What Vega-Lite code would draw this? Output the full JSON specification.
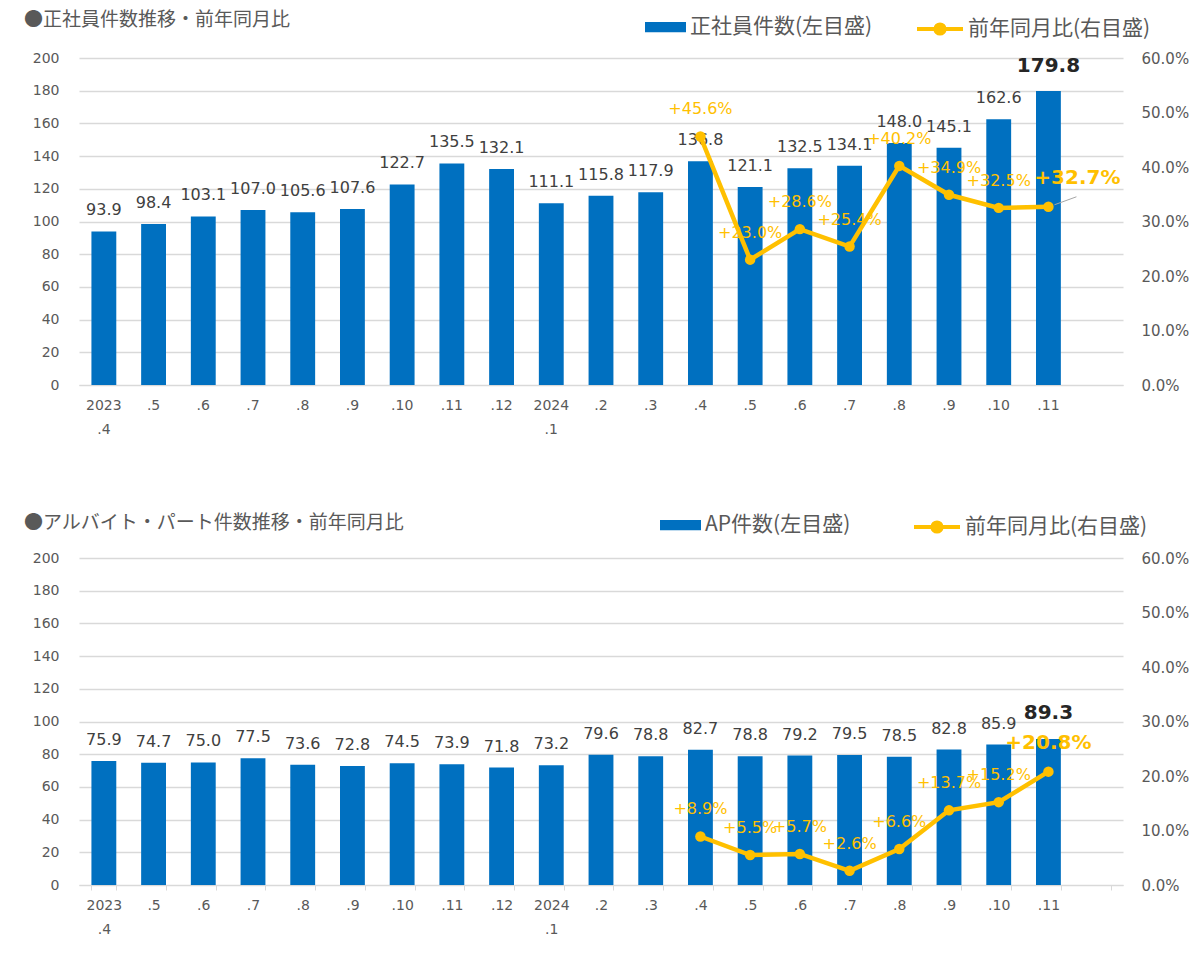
{
  "$schema": "https://vega.github.io/schema/vega-lite/v6.json",
  "background": "white",
  "padding": {"left": 24, "top": 4, "right": 5, "bottom": 5},
  "spacing": 66,
  "datasets": {
    "seisha": [
      {"m": "2023.4", "v": 93.9},
      {"m": "2023.5", "v": 98.4},
      {"m": "2023.6", "v": 103.1},
      {"m": "2023.7", "v": 107.0},
      {"m": "2023.8", "v": 105.6},
      {"m": "2023.9", "v": 107.6},
      {"m": "2023.10", "v": 122.7},
      {"m": "2023.11", "v": 135.5},
      {"m": "2023.12", "v": 132.1},
      {"m": "2024.1", "v": 111.1},
      {"m": "2024.2", "v": 115.8},
      {"m": "2024.3", "v": 117.9},
      {"m": "2024.4", "v": 136.8, "p": 0.456},
      {"m": "2024.5", "v": 121.1, "p": 0.230},
      {"m": "2024.6", "v": 132.5, "p": 0.286},
      {"m": "2024.7", "v": 134.1, "p": 0.254},
      {"m": "2024.8", "v": 148.0, "p": 0.402},
      {"m": "2024.9", "v": 145.1, "p": 0.349},
      {"m": "2024.10", "v": 162.6, "p": 0.325},
      {"m": "2024.11", "v": 179.8, "p": 0.327}
    ],
    "ap": [
      {"m": "2023.4", "v": 75.9},
      {"m": "2023.5", "v": 74.7},
      {"m": "2023.6", "v": 75.0},
      {"m": "2023.7", "v": 77.5},
      {"m": "2023.8", "v": 73.6},
      {"m": "2023.9", "v": 72.8},
      {"m": "2023.10", "v": 74.5},
      {"m": "2023.11", "v": 73.9},
      {"m": "2023.12", "v": 71.8},
      {"m": "2024.1", "v": 73.2},
      {"m": "2024.2", "v": 79.6},
      {"m": "2024.3", "v": 78.8},
      {"m": "2024.4", "v": 82.7, "p": 0.089},
      {"m": "2024.5", "v": 78.8, "p": 0.055},
      {"m": "2024.6", "v": 79.2, "p": 0.057},
      {"m": "2024.7", "v": 79.5, "p": 0.026},
      {"m": "2024.8", "v": 78.5, "p": 0.066},
      {"m": "2024.9", "v": 82.8, "p": 0.137},
      {"m": "2024.10", "v": 85.9, "p": 0.152},
      {"m": "2024.11", "v": 89.3, "p": 0.208}
    ]
  },
  "config": {
    "view": {"stroke": null},
    "font": "Noto Sans CJK JP",
    "axis": {"labelFont": "DejaVu Sans", "labelColor": "#595959", "labelFontSize": 14, "domain": false, "ticks": false, "grid": false},
    "text": {"font": "DejaVu Sans"}
  },
  "resolve": {
    "scale": {"y": "independent", "fill": "independent", "stroke": "independent"},
    "legend": {"fill": "independent", "stroke": "independent"}
  },
  "vconcat": [
    {
      "width": 1044,
      "height": 327,
      "title": {"text": "●正社員件数推移・前年同月比", "anchor": "start", "frame": "group", "dx": -55, "font": "Noto Sans CJK JP", "fontSize": 19, "fontWeight": "normal", "color": "#595959", "offset": -26},
      "data": {"name": "seisha"},
      "encoding": {
        "x": {
          "field": "m", "type": "nominal",
          "scale": {"domain": ["2023.4","2023.5","2023.6","2023.7","2023.8","2023.9","2023.10","2023.11","2023.12","2024.1","2024.2","2024.3","2024.4","2024.5","2024.6","2024.7","2024.8","2024.9","2024.10","2024.11","pad"], "paddingInner": 0.5, "paddingOuter": 0.25},
          "axis": {"title": null, "labelAngle": 0, "domain": true, "domainColor": "#d9d9d9", "domainWidth": 1, "ticks": false, "labelPadding": 13, "labelLineHeight": 24, "labelBaseline": "top", "labelExpr": "!isValid(datum.value) || datum.value == 'pad' ? '' : datum.value == '2023.4' ? ['2023', '.4'] : datum.value == '2024.1' ? ['2024', '.1'] : substring(datum.value, 4)"}
        }
      },
      "layer": [
        {
          "encoding": {
            "y": {"field": "v", "type": "quantitative", "scale": {"domain": [0, 200]},
              "axis": {"title": null, "values": [0,20,40,60,80,100,120,140,160,180,200], "grid": true, "gridColor": "#d9d9d9", "gridWidth": 1.3, "labelPadding": 20}}
          },
          "layer": [
            {
              "mark": {"type": "bar", "color": "#0070C0"},
              "encoding": {
                "fill": {"datum": "正社員件数(左目盛)", "type": "nominal", "scale": {"range": ["#0070C0"]},
                  "legend": {"orient": "none", "legendX": 566, "legendY": -51.5, "direction": "horizontal", "title": null, "symbolType": "M-1,-0.25H1V0.25H-1Z", "symbolSize": 1681, "symbolStrokeWidth": 0, "labelFont": "Noto Sans CJK JP", "labelFontSize": 21, "labelColor": "#595959", "labelOffset": 4, "labelLimit": 400, "padding": 0}}
              }
            },
            {
              "transform": [{"filter": "datum.m != '2024.11'"}],
              "mark": {"type": "text", "dy": -21, "fontSize": 16, "color": "#404040"},
              "encoding": {"text": {"field": "v", "type": "quantitative", "format": ".1f"}}
            },
            {
              "transform": [{"filter": "datum.m == '2024.11'"}],
              "mark": {"type": "text", "dy": -25, "fontSize": 20, "fontWeight": "bold", "color": "#262626"},
              "encoding": {"text": {"field": "v", "type": "quantitative", "format": ".1f"}}
            }
          ]
        },
        {
          "transform": [{"filter": "isValid(datum.p)"}],
          "encoding": {
            "y": {"field": "p", "type": "quantitative", "scale": {"domain": [0, 0.6]},
              "axis": {"title": null, "orient": "right", "values": [0,0.1,0.2,0.3,0.4,0.5,0.6], "format": ".1%", "labelPadding": 18, "labelFontSize": 15, "labelAlign": "left"}}
          },
          "layer": [
            {
              "mark": {"type": "line", "strokeWidth": 4.5},
              "encoding": {
                "stroke": {"datum": "前年同月比(右目盛)", "type": "nominal", "scale": {"range": ["#FFC000"]},
                  "legend": {"orient": "none", "legendX": 836, "legendY": -54, "direction": "horizontal", "title": null, "symbolType": "M-1,0H1M0.2,0A0.2,0.2,0,1,1,-0.2,0A0.2,0.2,0,1,1,0.2,0", "symbolSize": 2116, "symbolStrokeWidth": 4, "labelFont": "Noto Sans CJK JP", "labelFontSize": 21, "labelColor": "#595959", "labelOffset": 3, "labelLimit": 400, "padding": 0,
                    "encode": {"symbols": {"update": {"fill": {"value": "#FFC000"}, "stroke": {"value": "#FFC000"}}}}}}
              }
            },
            {"mark": {"type": "circle", "size": 110, "color": "#FFC000", "opacity": 1}},
            {
              "transform": [{"filter": "datum.m != '2024.11'"}],
              "mark": {"type": "text", "dy": -27, "fontSize": 16, "color": "#FFC000"},
              "encoding": {"text": {"field": "p", "type": "quantitative", "format": "+.1%"}}
            },
            {
              "transform": [{"filter": "datum.m == '2024.11'"}],
              "mark": {"type": "text", "dx": 29, "dy": -29, "fontSize": 20, "fontWeight": "bold", "color": "#FFC000"},
              "encoding": {"text": {"field": "p", "type": "quantitative", "format": "+.1%"}}
            },
            {
              "transform": [{"filter": "datum.m == '2024.11'"}],
              "mark": {"type": "rule", "color": "#A6A6A6", "strokeWidth": 1, "xOffset": 6, "x2Offset": 28, "yOffset": -2, "y2Offset": -10},
              "encoding": {"x2": {"field": "m"}, "y2": {"field": "p"}}
            }
          ]
        }
      ],
      "resolve": {"scale": {"y": "independent"}}
    },
    {
      "width": 1044,
      "height": 327,
      "title": {"text": "●アルバイト・パート件数推移・前年同月比", "anchor": "start", "frame": "group", "dx": -55, "font": "Noto Sans CJK JP", "fontSize": 19, "fontWeight": "normal", "color": "#595959", "offset": -31},
      "data": {"name": "ap"},
      "encoding": {
        "x": {
          "field": "m", "type": "nominal",
          "scale": {"domain": ["2023.4","2023.5","2023.6","2023.7","2023.8","2023.9","2023.10","2023.11","2023.12","2024.1","2024.2","2024.3","2024.4","2024.5","2024.6","2024.7","2024.8","2024.9","2024.10","2024.11","pad"], "paddingInner": 0.5, "paddingOuter": 0.25},
          "axis": {"title": null, "labelAngle": 0, "domain": true, "domainColor": "#d9d9d9", "domainWidth": 1, "ticks": true, "tickSize": 5, "tickColor": "#d9d9d9", "tickBand": "extent", "labelPadding": 8, "labelLineHeight": 24, "labelBaseline": "top", "labelExpr": "!isValid(datum.value) || datum.value == 'pad' ? '' : datum.value == '2023.4' ? ['2023', '.4'] : datum.value == '2024.1' ? ['2024', '.1'] : substring(datum.value, 4)"}
        }
      },
      "layer": [
        {
          "encoding": {
            "y": {"field": "v", "type": "quantitative", "scale": {"domain": [0, 200]},
              "axis": {"title": null, "values": [0,20,40,60,80,100,120,140,160,180,200], "grid": true, "gridColor": "#d9d9d9", "gridWidth": 1.3, "labelPadding": 20}}
          },
          "layer": [
            {
              "mark": {"type": "bar", "color": "#0070C0"},
              "encoding": {
                "fill": {"datum": "AP件数(左目盛)", "type": "nominal", "scale": {"range": ["#0070C0"]},
                  "legend": {"orient": "none", "legendX": 581, "legendY": -53.5, "direction": "horizontal", "title": null, "symbolType": "M-1,-0.25H1V0.25H-1Z", "symbolSize": 1681, "symbolStrokeWidth": 0, "labelFont": "Noto Sans CJK JP", "labelFontSize": 21, "labelColor": "#595959", "labelOffset": 4, "labelLimit": 400, "padding": 0}}
              }
            },
            {
              "transform": [{"filter": "datum.m != '2024.11'"}],
              "mark": {"type": "text", "dy": -21, "fontSize": 16, "color": "#404040"},
              "encoding": {"text": {"field": "v", "type": "quantitative", "format": ".1f"}}
            },
            {
              "transform": [{"filter": "datum.m == '2024.11'"}],
              "mark": {"type": "text", "dy": -26, "fontSize": 20, "fontWeight": "bold", "color": "#262626"},
              "encoding": {"text": {"field": "v", "type": "quantitative", "format": ".1f"}}
            }
          ]
        },
        {
          "transform": [{"filter": "isValid(datum.p)"}],
          "encoding": {
            "y": {"field": "p", "type": "quantitative", "scale": {"domain": [0, 0.6]},
              "axis": {"title": null, "orient": "right", "values": [0,0.1,0.2,0.3,0.4,0.5,0.6], "format": ".1%", "labelPadding": 18, "labelFontSize": 15, "labelAlign": "left"}}
          },
          "layer": [
            {
              "mark": {"type": "line", "strokeWidth": 4.5},
              "encoding": {
                "stroke": {"datum": "前年同月比(右目盛)", "type": "nominal", "scale": {"range": ["#FFC000"]},
                  "legend": {"orient": "none", "legendX": 833, "legendY": -56, "direction": "horizontal", "title": null, "symbolType": "M-1,0H1M0.2,0A0.2,0.2,0,1,1,-0.2,0A0.2,0.2,0,1,1,0.2,0", "symbolSize": 2116, "symbolStrokeWidth": 4, "labelFont": "Noto Sans CJK JP", "labelFontSize": 21, "labelColor": "#595959", "labelOffset": 3, "labelLimit": 400, "padding": 0,
                    "encode": {"symbols": {"update": {"fill": {"value": "#FFC000"}, "stroke": {"value": "#FFC000"}}}}}}
              }
            },
            {"mark": {"type": "circle", "size": 110, "color": "#FFC000", "opacity": 1}},
            {
              "transform": [{"filter": "datum.m != '2024.11'"}],
              "mark": {"type": "text", "dy": -27, "fontSize": 16, "color": "#FFC000"},
              "encoding": {"text": {"field": "p", "type": "quantitative", "format": "+.1%"}}
            },
            {
              "transform": [{"filter": "datum.m == '2024.11'"}],
              "mark": {"type": "text", "dy": -29, "fontSize": 20, "fontWeight": "bold", "color": "#FFC000"},
              "encoding": {"text": {"field": "p", "type": "quantitative", "format": "+.1%"}}
            }
          ]
        }
      ],
      "resolve": {"scale": {"y": "independent"}}
    }
  ]
}
